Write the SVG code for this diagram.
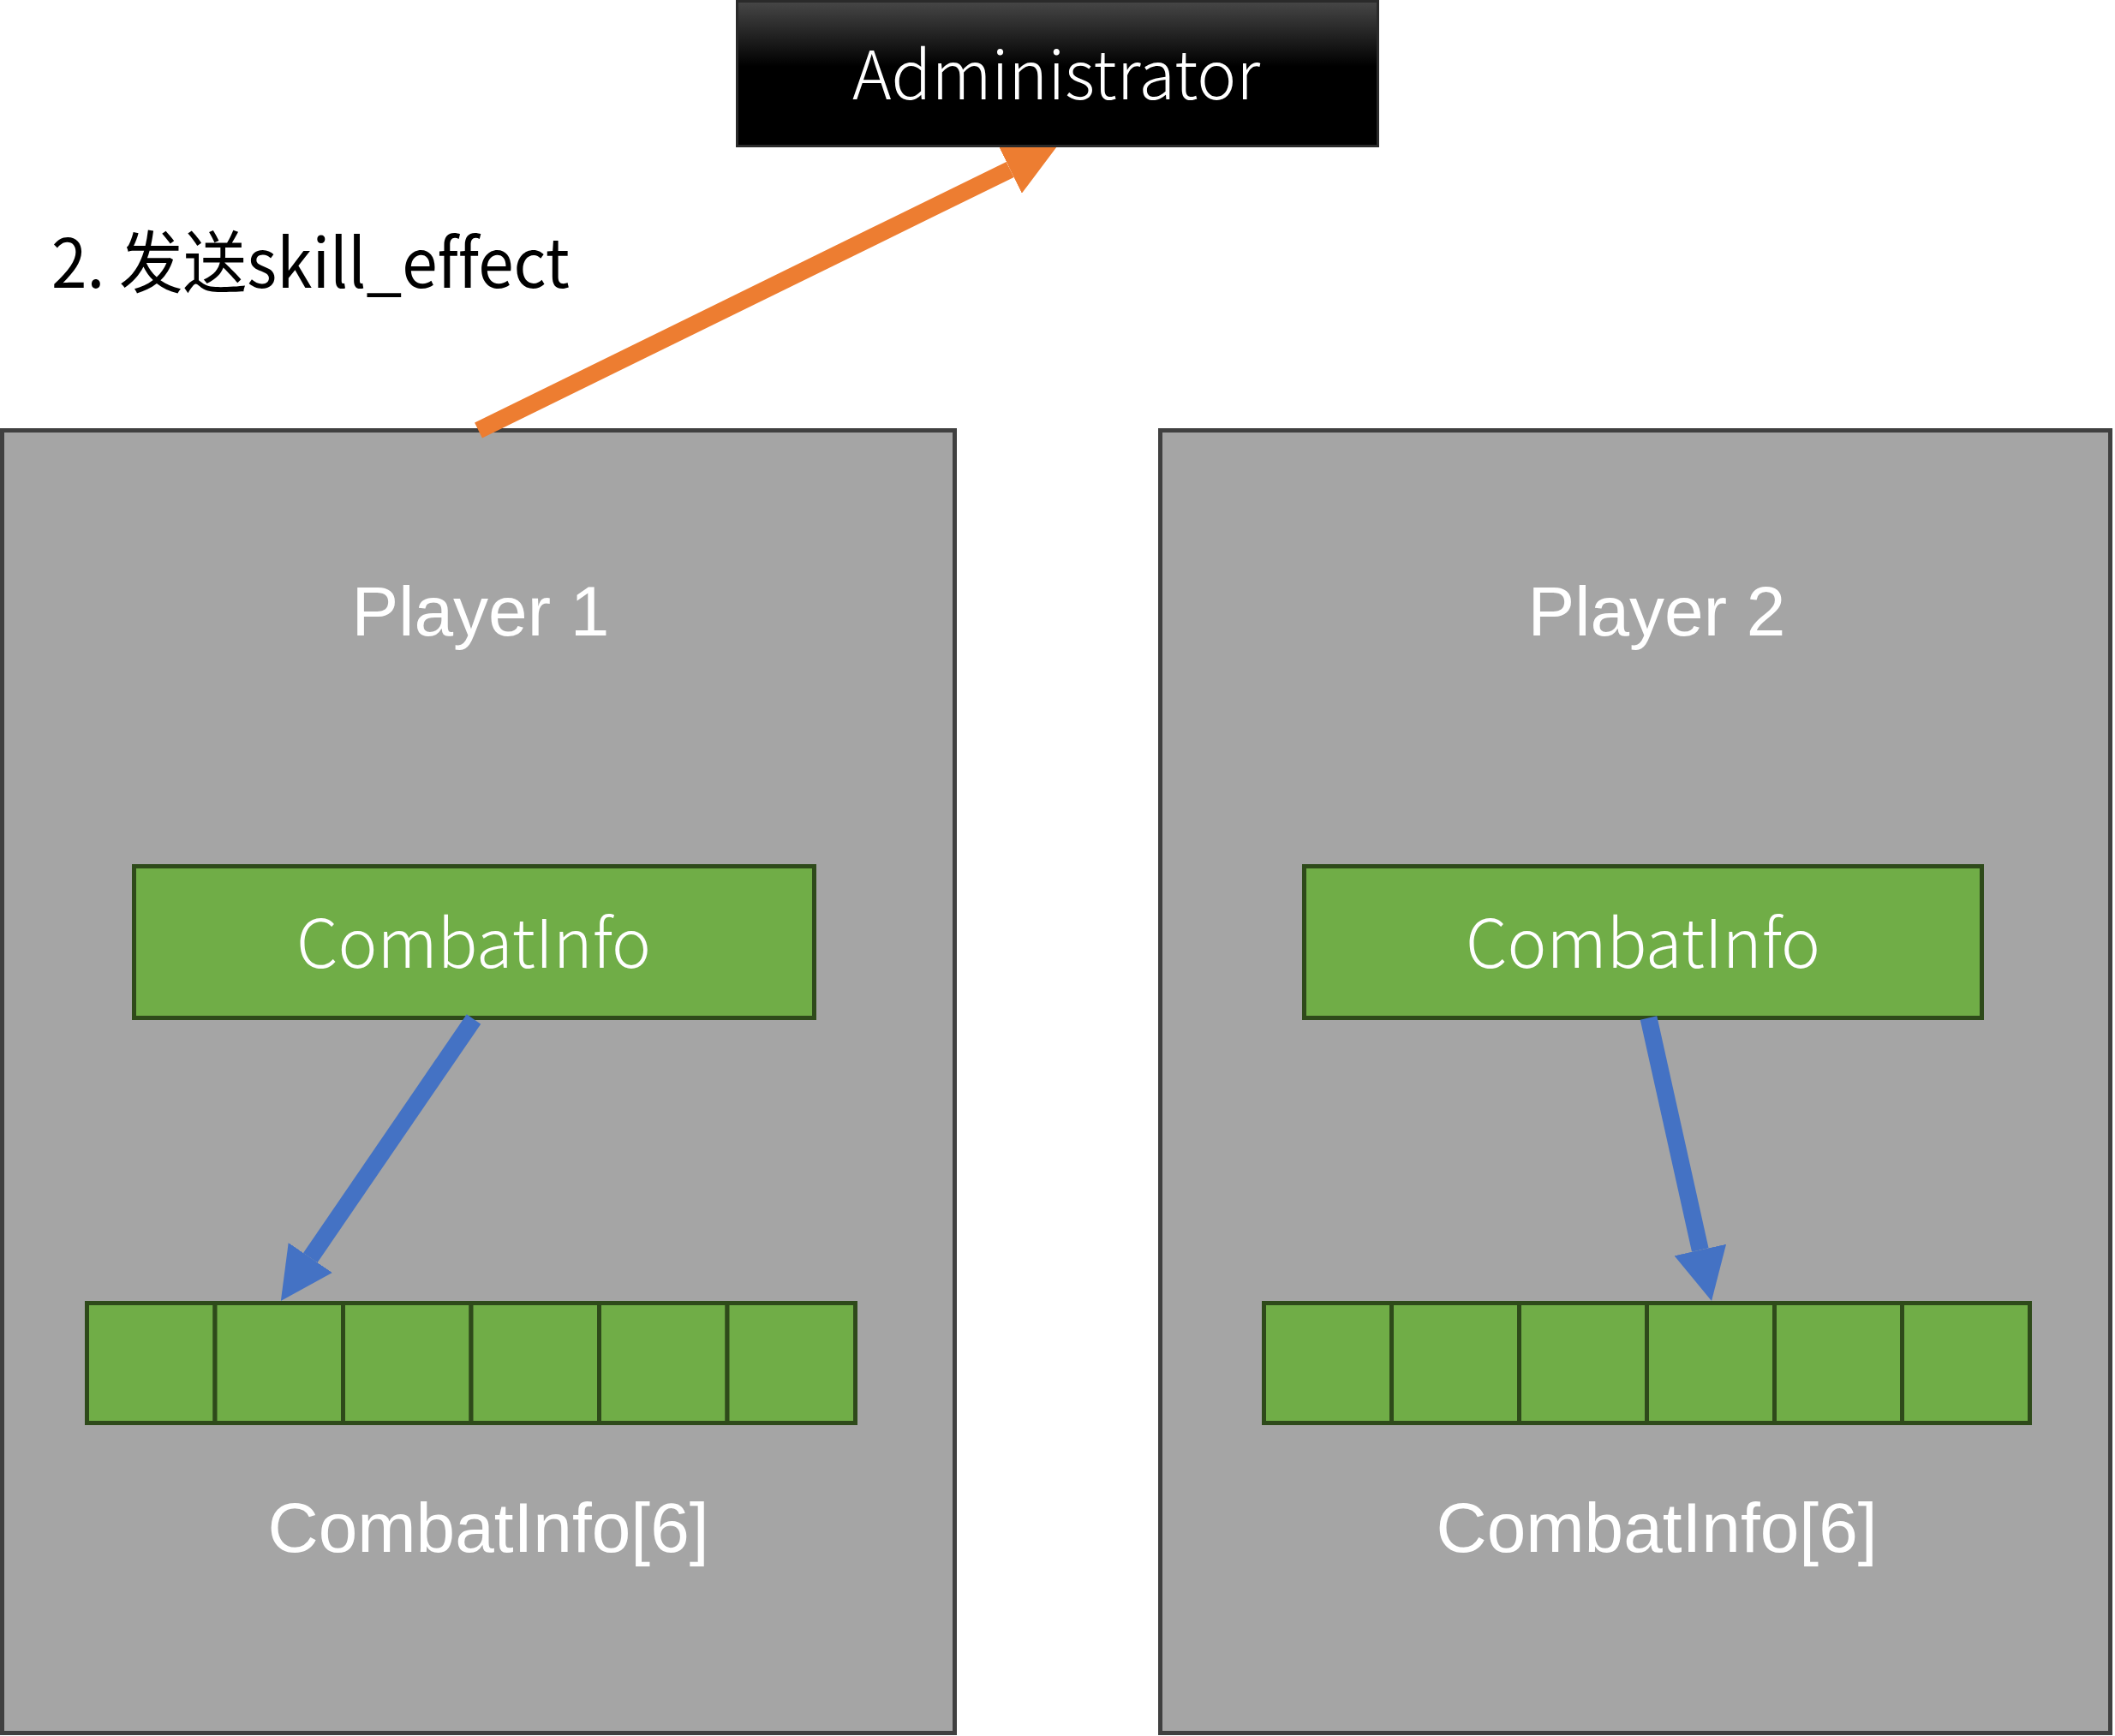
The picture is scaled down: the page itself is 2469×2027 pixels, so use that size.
<svg xmlns="http://www.w3.org/2000/svg" width="2469" height="2027" viewBox="0 0 2469 2027">
  <style>
    .player { fill: #A5A5A5; stroke: #404040; stroke-width: 5; }
    .green { fill: #70AD47; stroke: #2E4A1A; stroke-width: 5; }
    .cell { fill: #70AD47; stroke: #2E4A1A; stroke-width: 5; }
    .arial { font-family: "Liberation Sans", Arial, sans-serif; font-size: 82px; fill: #FFFFFF; text-anchor: middle; }
    .yahei { font-family: "Noto Sans CJK SC", "Noto Sans", sans-serif; font-weight: 300; font-size: 78px; fill: #FFFFFF; text-anchor: middle; font-variant-ligatures: none; }
    .label { font-family: "Noto Sans CJK SC", "Noto Sans", sans-serif; font-weight: 400; font-size: 79px; fill: #000000; font-variant-ligatures: none; }
    .orange { stroke: #ED7D31; stroke-width: 20; fill: none; }
    .blue { stroke: #4472C4; stroke-width: 20; fill: none; }
  </style>
  <defs>
    <linearGradient id="adminGrad" x1="0" y1="0" x2="0" y2="1">
      <stop offset="0" stop-color="#474747"/>
      <stop offset="0.45" stop-color="#000000"/>
      <stop offset="1" stop-color="#000000"/>
    </linearGradient>
    <marker id="headOrange" markerUnits="userSpaceOnUse" viewBox="0 0 61 62" markerWidth="61" markerHeight="62" refX="0" refY="31" orient="auto">
      <path d="M0,0 L61,31 L0,62 Z" fill="#ED7D31"/>
    </marker>
    <marker id="headBlue" markerUnits="userSpaceOnUse" viewBox="0 0 61 62" markerWidth="61" markerHeight="62" refX="0" refY="31" orient="auto">
      <path d="M0,0 L61,31 L0,62 Z" fill="#4472C4"/>
    </marker>
  </defs>

  <rect x="0" y="0" width="2469" height="2027" fill="#FFFFFF"/>

  <g id="player1">
    <rect class="player" x="2.5" y="502.5" width="1112" height="1521"/>
    <text class="arial" x="561" y="742">Player 1</text>
  </g>

  <g id="player2">
    <rect class="player" x="1354.5" y="502.5" width="1109" height="1521"/>
    <text class="arial" x="1934" y="742">Player 2</text>
  </g>

  <g id="combatinfo1">
    <rect class="green" x="156.5" y="1011.5" width="794" height="177"/>
    <text class="yahei" x="553" y="1130" textLength="414" lengthAdjust="spacingAndGlyphs">CombatInfo</text>
  </g>

  <g id="combatinfo2">
    <rect class="green" x="1522.5" y="1011.5" width="791" height="177"/>
    <text class="yahei" x="1918" y="1130" textLength="414" lengthAdjust="spacingAndGlyphs">CombatInfo</text>
  </g>

  <g id="array1">
    <rect class="cell" x="101.5" y="1521.5" width="149.5" height="140"/>
    <rect class="cell" x="251" y="1521.5" width="149.5" height="140"/>
    <rect class="cell" x="400.5" y="1521.5" width="149.5" height="140"/>
    <rect class="cell" x="550" y="1521.5" width="149.5" height="140"/>
    <rect class="cell" x="699.5" y="1521.5" width="149.5" height="140"/>
    <rect class="cell" x="849" y="1521.5" width="149.5" height="140"/>
    <text class="arial" x="570" y="1812">CombatInfo[6]</text>
  </g>

  <g id="array2">
    <rect class="cell" x="1475.5" y="1521.5" width="149" height="140"/>
    <rect class="cell" x="1624.5" y="1521.5" width="149" height="140"/>
    <rect class="cell" x="1773.5" y="1521.5" width="149" height="140"/>
    <rect class="cell" x="1922.5" y="1521.5" width="149" height="140"/>
    <rect class="cell" x="2071.5" y="1521.5" width="149" height="140"/>
    <rect class="cell" x="2220.5" y="1521.5" width="149" height="140"/>
    <text class="arial" x="1934" y="1812">CombatInfo[6]</text>
  </g>

  <g id="connectors">
    <line class="orange" x1="558.5" y1="502.5" x2="1179.2" y2="197.9" marker-end="url(#headOrange)"/>
    <line class="blue" x1="553" y1="1190" x2="362.3" y2="1468.6" marker-end="url(#headBlue)"/>
    <line class="blue" x1="1924.5" y1="1188.5" x2="1984.8" y2="1459.5" marker-end="url(#headBlue)"/>
  </g>

  <g id="administrator">
    <rect x="860.5" y="1.5" width="748" height="169" fill="url(#adminGrad)" stroke="#2A2A2A" stroke-width="3"/>
    <text class="yahei" x="1233" y="116" textLength="476" lengthAdjust="spacingAndGlyphs">Administrator</text>
  </g>

  <g id="label">
    <text class="label" x="60" y="336" textLength="605" lengthAdjust="spacingAndGlyphs">2. 发送skill_effect</text>
  </g>
</svg>
